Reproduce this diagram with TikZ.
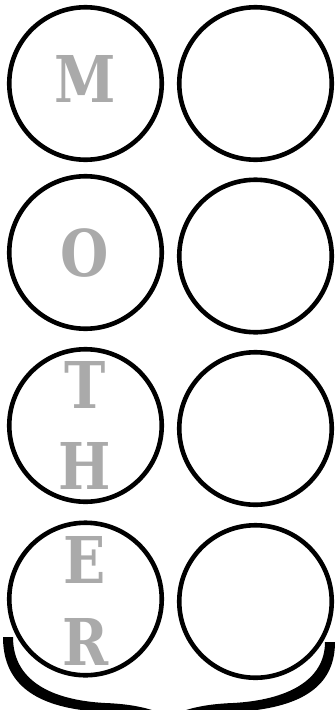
\documentclass[tikz,border=0pt]{standalone}
\usepackage{fontspec}
\usepackage{tikz}
\usetikzlibrary{positioning}
\newfontfamily\letterfont[FakeStretch=0.86]{DejaVu Serif}
\definecolor{ring}{HTML}{000000}
\definecolor{lettergray}{HTML}{AAAAAA}
\tikzset{
  ringnode/.style={draw=ring, circle, line width=4.6pt, minimum size=152.5pt, inner sep=0pt},
  letternode/.style={text=lettergray, anchor=base, inner sep=0pt,
    font=\letterfont\bfseries\fontsize{64.5}{64.5}\selectfont}
}

\begin{document}
\begin{tikzpicture}[x=1pt,y=-1pt]
  \useasboundingbox (0,0) rectangle (335,710);
  % two columns of rings
  \node[ringnode] (left1) at (85.5,83.5) {};
  \node[ringnode] (right1) at (255.5,83.5) {};
  \node[ringnode] (left2) at (85.5,252.5) {};
  \node[ringnode] (right2) at (255.5,256) {};
  \node[ringnode] (left3) at (85.5,425.5) {};
  \node[ringnode] (right3) at (255.5,428.5) {};
  \node[ringnode] (left4) at (85.5,599) {};
  \node[ringnode] (right4) at (255.5,601.5) {};
  % letters down the left column
  \node[letternode] (letM) at (85,102) {M};
  \node[letternode] (letO) at (85,276) {O};
  \node[letternode] (letT) at (85,408) {T};
  \node[letternode] (letH) at (85,489) {H};
  \node[letternode] (letE) at (85,583) {E};
  \node[letternode] (letR) at (86,665) {R};
  % brace under the bottom row
  \fill[ring] (3,637) .. controls (3,680) and (30,705) .. (90,711)
    .. controls (130,714) and (160,718) .. (169,728)
    .. controls (178,718) and (208,714) .. (248,711)
    .. controls (308,705) and (335,682) .. (335,642)
    -- (325,642) .. controls (325,680) and (288,700) .. (233,703)
    .. controls (203,704) and (180,710) .. (169,718)
    .. controls (158,710) and (135,704) .. (105,703)
    .. controls (50,700) and (13,680) .. (13,637) -- cycle;
\end{tikzpicture}
\end{document}
